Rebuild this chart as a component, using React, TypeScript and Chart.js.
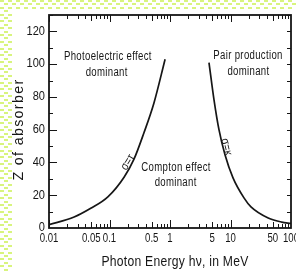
import React, { useEffect, useRef } from 'react';
import { Chart, registerables } from 'chart.js';

Chart.register(...registerables);

// σ = τ boundary (photoelectric / Compton)
const photoEnergy = [0.01, 0.026, 0.049, 0.094, 0.174, 0.254, 0.37, 0.54, 0.83];
const photoZ = [2, 6.7, 12, 19, 31, 42, 58, 76, 103];
// σ = κ boundary (Compton / pair production)
const pairEnergy = [4.41, 5.33, 6.45, 8.11, 11.0, 16.7, 21.8, 42, 70, 100];
const pairZ = [101, 78.4, 60, 44.7, 30.6, 18.4, 12.9, 6.1, 3.6, 2.8];

const xTickLabels = [0.01, 0.05, 0.1, 0.5, 1, 5, 10, 50, 100];
const yTickLabels = [0, 20, 40, 60, 80, 100, 120];

const xTitle = 'Photon Energy h\u03bd, in MeV';
const yTitle = 'Z of absorber';

const regionLabels = [
  { text: 'Photoelectric effect', x: 0.094, y: 104.7 },
  { text: 'dominant', x: 0.09, y: 95 },
  { text: 'Pair production', x: 19.5, y: 105 },
  { text: 'dominant', x: 19.8, y: 95.5 },
  { text: 'Compton effect', x: 1.26, y: 36.7 },
  { text: 'dominant', x: 1.24, y: 27.5 },
];
const curveLabels = [
  { text: '\u03c3=\u03c4', x: 0.2, y: 40, angle: -58 },
  { text: '\u03c3=\u03ba', x: 8.5, y: 49.5, angle: 76 },
];

const FONT = '"Liberation Sans", Arial, sans-serif';
const INK = '#161616';

function drawText(ctx: any, text: string, x: number, y: number, sx: number) {
  ctx.save();
  ctx.translate(x, y);
  ctx.scale(sx, 1);
  ctx.fillText(text, 0, 0);
  ctx.restore();
}

const decorPlugin = {
  id: 'decor',
  beforeDraw(chart: any) {
    const ctx = chart.ctx;
    ctx.save();
    ctx.fillStyle = '#ffffff';
    ctx.fillRect(0, 0, chart.width, chart.height);
    ctx.fillStyle = '#d8f47e';
    let row = 0;
    for (let y = 0; y < chart.height; y += 3.4, row++) {
      const off = row % 2 === 0 ? 0 : 4;
      for (let x = off; x < chart.width; x += 8) {
        if (y < 8 || x < 12) ctx.fillRect(Math.round(x), Math.round(y), 4, 2);
      }
    }
    ctx.restore();
  },
  afterDraw(chart: any) {
    const ctx = chart.ctx;
    const xs = chart.scales.x;
    const ys = chart.scales.y;
    const { left, right, top, bottom } = chart.chartArea;
    ctx.save();
    ctx.strokeStyle = INK;
    ctx.fillStyle = INK;
    // frame
    ctx.lineWidth = 1.8;
    ctx.strokeRect(left, top, right - left, bottom - top);
    // x ticks (inward, bottom and top)
    ctx.lineWidth = 1;
    for (let e = -2; e <= 1; e++) {
      for (let m = 1; m <= 9; m++) {
        const v = m * Math.pow(10, e);
        const px = Math.round(xs.getPixelForValue(v)) + 0.5;
        const lb = m === 1 ? 8 : m === 5 ? 6 : 4;
        const lt = m === 1 ? 7 : m === 5 ? 6 : 4;
        ctx.beginPath();
        ctx.moveTo(px, bottom);
        ctx.lineTo(px, bottom - lb);
        ctx.moveTo(px, top);
        ctx.lineTo(px, top + lt);
        ctx.stroke();
      }
    }
    // y ticks (inward, left and right)
    for (let v = 10; v <= 130; v += 10) {
      const py = Math.round(ys.getPixelForValue(v)) + 0.5;
      const ll = v % 20 === 0 ? 8 : 4;
      ctx.beginPath();
      ctx.moveTo(left, py);
      ctx.lineTo(left + ll, py);
      ctx.moveTo(right, py);
      ctx.lineTo(right - 4, py);
      ctx.stroke();
    }
    // tick labels
    ctx.font = `12px ${FONT}`;
    ctx.textAlign = 'center';
    ctx.textBaseline = 'middle';
    xTickLabels.forEach((v) => {
      drawText(ctx, String(v), xs.getPixelForValue(v), bottom + 11, 0.8);
    });
    ctx.textAlign = 'right';
    yTickLabels.forEach((v) => {
      drawText(ctx, String(v), left - 4, ys.getPixelForValue(v), 0.92);
    });
    // axis titles
    ctx.font = `15px ${FONT}`;
    ctx.textAlign = 'center';
    (ctx as any).letterSpacing = '0.3px';
    drawText(ctx, xTitle, (left + right) / 2 + 5, bottom + 34, 0.81);
    ctx.save();
    ctx.translate(19, (top + bottom) / 2 + 8);
    ctx.rotate(-Math.PI / 2);
    (ctx as any).letterSpacing = '1.4px';
    drawText(ctx, yTitle, 0, 0, 0.95);
    ctx.restore();
    // region labels
    (ctx as any).letterSpacing = '0.4px';
    ctx.font = `12px ${FONT}`;
    regionLabels.forEach((l) => {
      drawText(ctx, l.text, xs.getPixelForValue(l.x), ys.getPixelForValue(l.y), 0.8);
    });
    // curve labels
    ctx.font = `12px ${FONT}`;
    (ctx as any).letterSpacing = '0px';
    curveLabels.forEach((l) => {
      ctx.save();
      ctx.translate(xs.getPixelForValue(l.x), ys.getPixelForValue(l.y));
      ctx.rotate((l.angle * Math.PI) / 180);
      drawText(ctx, l.text, 0, 0, 0.85);
      ctx.restore();
    });
    ctx.restore();
  },
};

export default function App() {
  const ref = useRef<HTMLCanvasElement>(null);
  useEffect(() => {
    document.body.style.margin = '0';
    const canvas = ref.current!;
    const chart = new Chart(canvas, {
      type: 'scatter',
      data: {
        datasets: [
          {
            data: photoEnergy.map((x, i) => ({ x, y: photoZ[i] })),
            showLine: true,
            borderColor: INK,
            borderWidth: 1.7,
            pointRadius: 0,
            tension: 0.4,
            cubicInterpolationMode: 'monotone',
          },
          {
            data: pairEnergy.map((x, i) => ({ x, y: pairZ[i] })),
            showLine: true,
            borderColor: INK,
            borderWidth: 1.7,
            pointRadius: 0,
            tension: 0.4,
            cubicInterpolationMode: 'monotone',
          },
        ],
      },
      options: {
        animation: false,
        responsive: false,
        devicePixelRatio: 1,
        layout: { padding: { left: 49, top: 15, right: 5, bottom: 44 } },
        plugins: { legend: { display: false }, tooltip: { enabled: false } },
        scales: {
          x: { type: 'logarithmic', min: 0.01, max: 100, display: false },
          y: { type: 'linear', min: 0, max: 130, display: false },
        },
      },
      plugins: [decorPlugin],
    } as any);
    return () => chart.destroy();
  }, []);
  return (
    <div style={{ position: 'fixed', left: 0, top: 0, width: 296, height: 272 }}>
      <canvas ref={ref} width={296} height={272} />
    </div>
  );
}
